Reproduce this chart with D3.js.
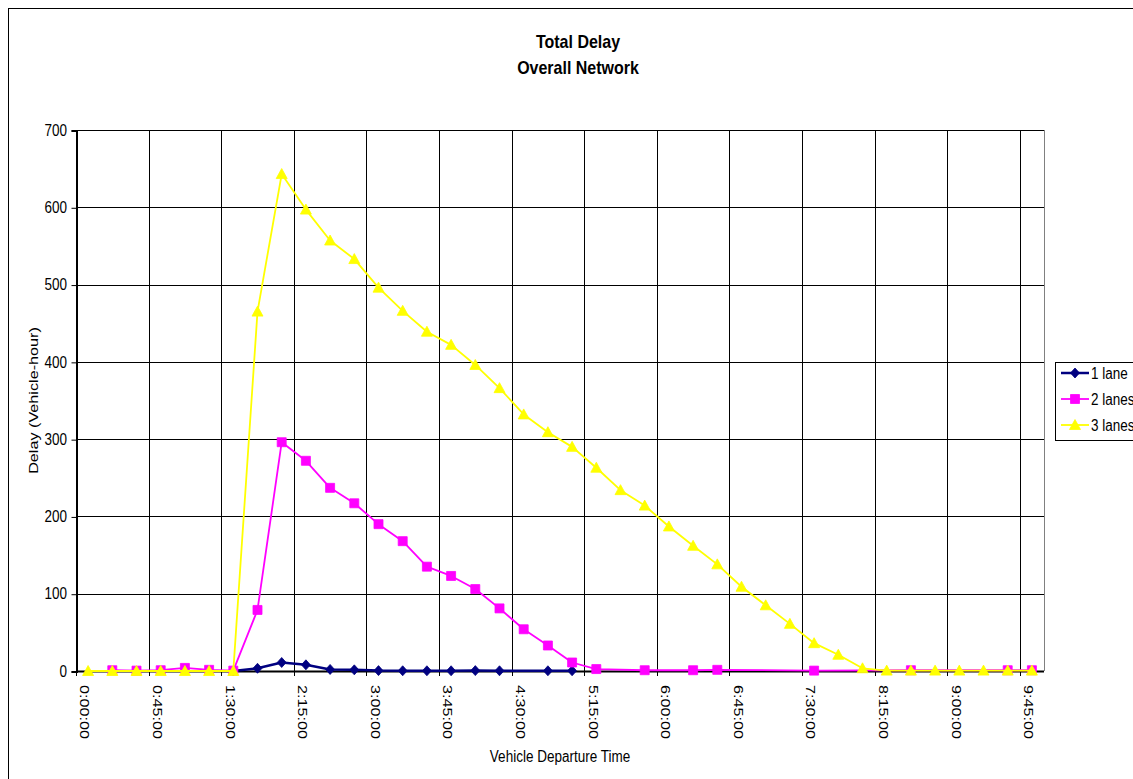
<!DOCTYPE html>
<html>
<head>
<meta charset="utf-8">
<script src="https://cdn.jsdelivr.net/npm/d3@7"></script>
<style>
  html, body { margin: 0; padding: 0; background: #fff; }
  svg { display: block; font-family: "Liberation Sans", Arial, sans-serif; }
</style>
</head>
<body>
<svg id="chart" width="1133" height="779"></svg>
<script>
// Departure-time categories (15-minute bins)
const categories = [
  "0:00:00","0:15:00","0:30:00","0:45:00","1:00:00","1:15:00","1:30:00","1:45:00",
  "2:00:00","2:15:00","2:30:00","2:45:00","3:00:00","3:15:00","3:30:00","3:45:00",
  "4:00:00","4:15:00","4:30:00","4:45:00","5:00:00","5:15:00","5:30:00","5:45:00",
  "6:00:00","6:15:00","6:30:00","6:45:00","7:00:00","7:15:00","7:30:00","7:45:00",
  "8:00:00","8:15:00","8:30:00","8:45:00","9:00:00","9:15:00","9:30:00","9:45:00"
];

// Total delay (vehicle-hour) per bin; null = no value recorded for that bin
const lane1 = [
  null, null, null, null, null, null, 0, 3.5,
  11, 8, 2, 1.5, 0.5, 0.3, 0.3, 0.3,
  0.5, 0.3, null, 0.3, 0.3, null, null, null,
  null, null, null, null, null, null, null, null,
  null, null, null, null, null, null, null, null
];
const lane2 = [
  null, 1, 0.5, 1, 4, 1.5, 0.5, 79,
  296, 272, 237, 217, 190, 168, 135, 123,
  106, 81, 54, 33, 11, 2.5, null, 1,
  null, 1, 1.5, null, null, null, 0.5, null,
  null, null, 1, null, null, null, 1, 1
];
const lane3 = [
  0, 0, 0, 0, 0, 0, 0, 465,
  643, 597, 557, 533, 496, 466, 439, 422,
  396, 366, 332, 309, 290, 263, 234, 214,
  187, 162, 138, 109, 85, 61, 36, 21,
  3.5, 0.5, 0.5, 0.5, 0.5, 0.5, 0.5, 0.5
];

const yTicks = [0, 100, 200, 300, 400, 500, 600, 700];
const seriesNames = ["1 lane", "2 lanes", "3 lanes"];

// Text is drawn slightly tall (vertical stretch of glyphs)
const STRETCH = 1.2;
const FS = 13.5;

const svg = d3.select("#chart");

// Chart area frame
svg.append("rect")
  .attr("x", 8.5).attr("y", 8.5)
  .attr("width", 1200).attr("height", 900)
  .attr("fill", "#fff").attr("stroke", "#000").attr("stroke-width", 1);

const plot = { left: 76, right: 1044, top: 130, bottom: 671 };

const x = d3.scaleBand()
  .domain(categories)
  .range([plot.left, plot.right])
  .paddingInner(0).paddingOuter(0);

const y = d3.scaleLinear()
  .domain([0, 700])
  .range([plot.bottom, plot.top]);

const cx = c => x(c) + x.bandwidth() / 2;

// Horizontal gridlines
svg.append("g")
  .selectAll("line")
  .data(yTicks)
  .join("line")
  .attr("x1", plot.left).attr("x2", plot.right)
  .attr("y1", d => Math.round(y(d)) + 0.5).attr("y2", d => Math.round(y(d)) + 0.5)
  .attr("stroke", "#000").attr("stroke-width", 1);

// Vertical gridlines at every third category boundary
const boundaryIdx = d3.range(0, categories.length + 1, 3);
const bx = i => x.range()[0] + i * x.step();
svg.append("g")
  .selectAll("line")
  .data(boundaryIdx)
  .join("line")
  .attr("x1", i => Math.round(bx(i)) + 0.5).attr("x2", i => Math.round(bx(i)) + 0.5)
  .attr("y1", plot.top).attr("y2", plot.bottom + 5)
  .attr("stroke", "#000").attr("stroke-width", 1);

// Plot area right border
svg.append("line")
  .attr("x1", plot.right + 0.5).attr("x2", plot.right + 0.5)
  .attr("y1", plot.top).attr("y2", plot.bottom)
  .attr("stroke", "#808080").attr("stroke-width", 1);

// Y axis (line + ticks from d3, labels drawn separately)
const yAxis = d3.axisLeft(y).tickValues(yTicks).tickSize(5).tickFormat("");
const gy = svg.append("g")
  .attr("transform", `translate(${plot.left + 0.5},0.5)`)
  .call(yAxis);
gy.select(".domain").attr("stroke", "#000").attr("stroke-width", 2);
gy.selectAll(".tick line").attr("stroke", "#000");

svg.append("g")
  .selectAll("text")
  .data(yTicks)
  .join("text")
  .attr("transform", d => `translate(67,${y(d)}) scale(1,${STRETCH})`)
  .attr("dy", "0.35em")
  .attr("text-anchor", "end")
  .attr("font-size", FS)
  .attr("fill", "#000")
  .text(d => d);

// X axis line
svg.append("line")
  .attr("x1", plot.left).attr("x2", plot.right)
  .attr("y1", plot.bottom + 0.5).attr("y2", plot.bottom + 0.5)
  .attr("stroke", "#000").attr("stroke-width", 2);

// X tick labels (every third category, rotated)
svg.append("g")
  .selectAll("text")
  .data(categories.filter((c, i) => i % 3 === 0))
  .join("text")
  .attr("transform", c => `translate(${cx(c) - 3},${plot.bottom + 14}) rotate(90) scale(${STRETCH},1)`)
  .attr("dy", "0.35em")
  .attr("font-size", FS)
  .attr("fill", "#000")
  .text(c => c);

// Axis titles
svg.append("text")
  .attr("transform", `translate(${(plot.left + plot.right) / 2},762) scale(1,${STRETCH})`)
  .attr("text-anchor", "middle").attr("font-size", FS)
  .text("Vehicle Departure Time");

svg.append("text")
  .attr("transform", `translate(38,${(plot.top + plot.bottom) / 2}) rotate(-90) scale(${STRETCH},1)`)
  .attr("text-anchor", "middle").attr("font-size", FS)
  .text("Delay (Vehicle-hour)");

// Chart title
const title = svg.append("g").attr("font-weight", "bold").attr("text-anchor", "middle");
title.append("text")
  .attr("transform", `translate(578,48) scale(1,${STRETCH})`)
  .attr("font-size", 16).text("Total Delay");
title.append("text")
  .attr("transform", `translate(578,74) scale(1,${STRETCH})`)
  .attr("font-size", 16).text("Overall Network");

// Marker shapes
const markerPath = {
  diamond: "M0,-5L4.5,0L0,5L-4.5,0Z",
  square: "M-4.5,-4.5H4.5V4.5H-4.5Z",
  triangle: "M0,-5.5L5.5,4.5H-5.5Z"
};

const series = [
  { name: seriesNames[0], values: lane1, color: "#000080", width: 2.5, marker: "diamond" },
  { name: seriesNames[1], values: lane2, color: "#FF00FF", width: 1.8, marker: "square" },
  { name: seriesNames[2], values: lane3, color: "#FFFF00", width: 1.8, marker: "triangle" }
];

const line = d3.line()
  .x(d => cx(d.cat))
  .y(d => y(d.v));

series.forEach(s => {
  const pts = categories
    .map((c, i) => ({ cat: c, v: s.values[i] }))
    .filter(d => d.v !== null);
  const g = svg.append("g");
  g.append("path")
    .datum(pts)
    .attr("d", line)
    .attr("fill", "none")
    .attr("stroke", s.color)
    .attr("stroke-width", s.width)
    .attr("stroke-linejoin", "round");
  g.selectAll("path.mk")
    .data(pts)
    .join("path")
    .attr("class", "mk")
    .attr("transform", d => `translate(${cx(d.cat)},${y(d.v)})`)
    .attr("d", markerPath[s.marker])
    .attr("fill", s.color)
    .attr("stroke", s.color)
    .attr("stroke-width", 0.8);
});

// Legend
const legend = svg.append("g");
legend.append("rect")
  .attr("x", 1055.5).attr("y", 362.5)
  .attr("width", 120).attr("height", 78)
  .attr("fill", "#fff").attr("stroke", "#000").attr("stroke-width", 1);

series.forEach((s, i) => {
  const ly = 373 + i * 26;
  legend.append("line")
    .attr("x1", 1061).attr("x2", 1089)
    .attr("y1", ly).attr("y2", ly)
    .attr("stroke", s.color).attr("stroke-width", s.width);
  legend.append("path")
    .attr("transform", `translate(1075,${ly})`)
    .attr("d", markerPath[s.marker])
    .attr("fill", s.color).attr("stroke", s.color).attr("stroke-width", 0.8);
  legend.append("text")
    .attr("transform", `translate(1091,${ly}) scale(1,${STRETCH})`)
    .attr("dy", "0.35em")
    .attr("font-size", FS).text(s.name);
});
</script>
</body>
</html>
